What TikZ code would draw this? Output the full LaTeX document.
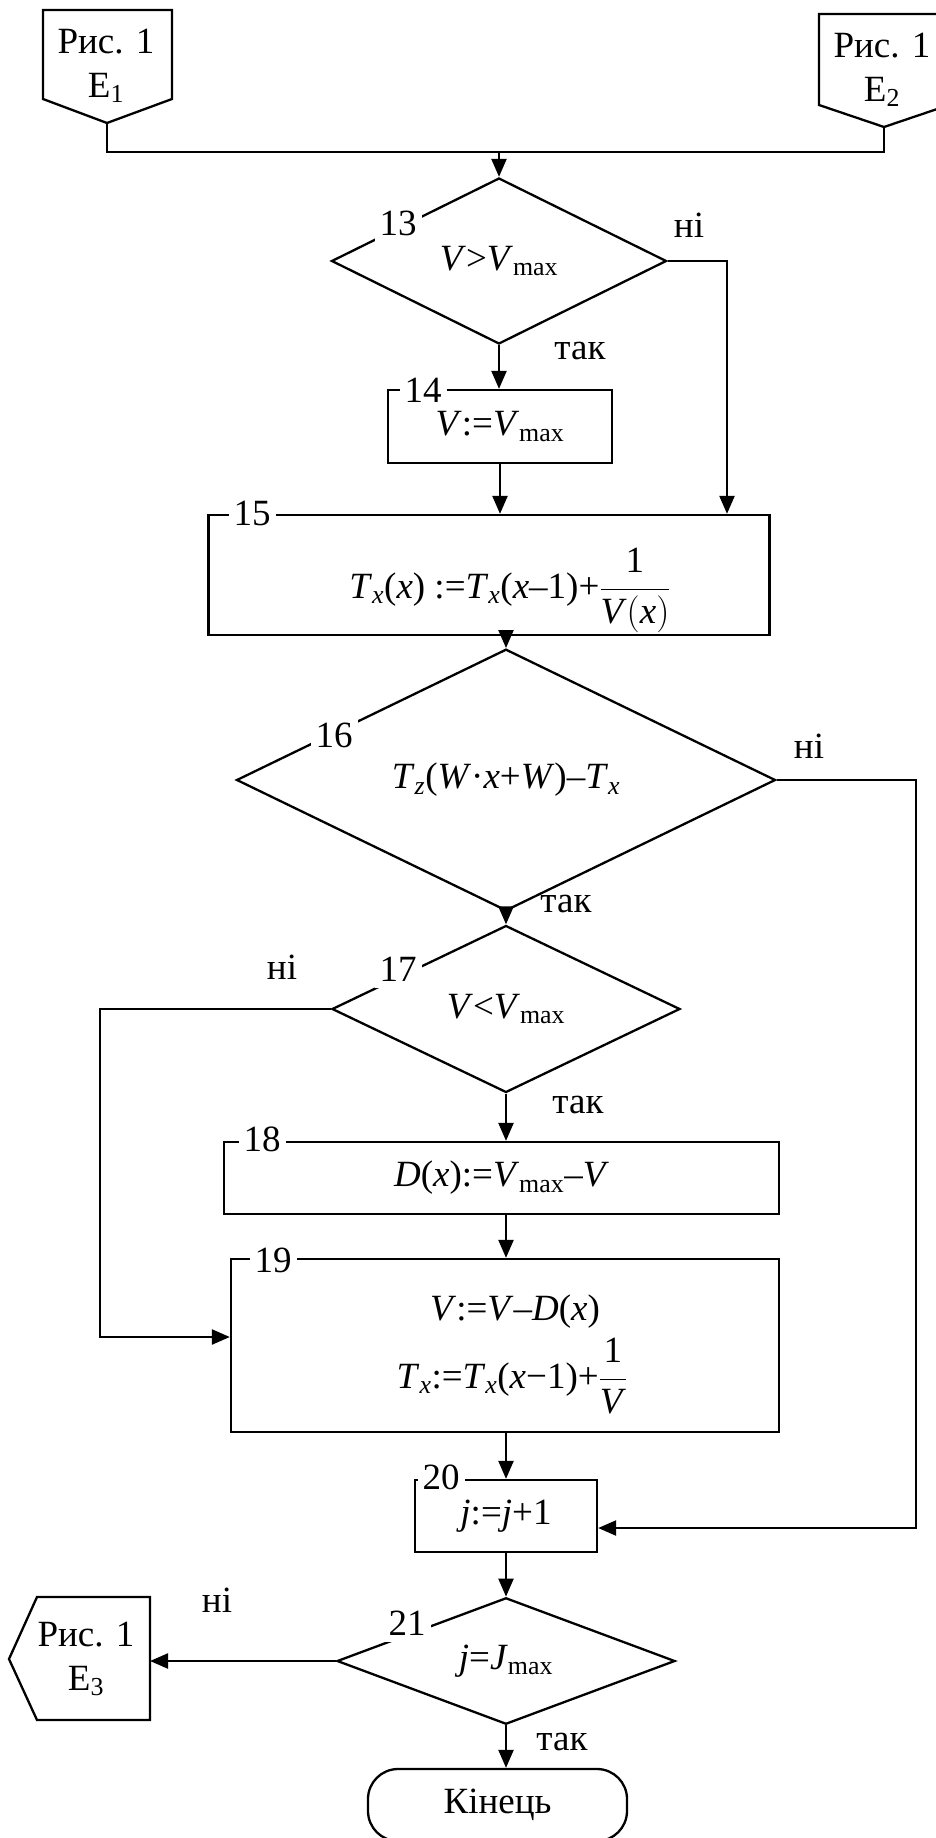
\RequirePackage{fix-cm}
\documentclass[tikz,border=0pt]{standalone}
\usepackage{fontspec}
\setmainfont{Liberation Serif}
\usetikzlibrary{shapes.geometric,arrows.meta}

\begin{document}
\begin{tikzpicture}[x=1pt,y=-1pt,line width=2.3pt,
  font=\fontsize{37}{44}\selectfont,
  proc/.style={draw,rectangle,inner sep=0pt},
  cond/.style={draw,diamond,inner sep=0pt},
  num/.style={fill=white,inner xsep=5pt,inner ysep=7pt,anchor=base},
  txt/.style={inner sep=0pt,anchor=base},
  arr/.style={-{Triangle[length=18pt,width=15pt]}}]
\useasboundingbox (0,0) rectangle (936,1838);

% --- entries from fig. 1 ---
\draw (43,10) -- (172,10) -- (172,99) -- (107,123) coordinate (e1tip) -- (43,99) -- cycle;
\node[align=center,inner sep=0pt] (e1) at (106,66) {Рис. 1\\E\textsubscript{1}};
\draw (819,14) -- (949,14) -- (949,105) -- (884,127) coordinate (e2tip) -- (819,105) -- cycle;
\node[align=center,inner sep=0pt] (e2) at (882,70) {Рис. 1\\E\textsubscript{2}};

% blocks
\node[cond,minimum width=335pt,minimum height=166pt] (d13) at (499,261) {\textit{V}>\textit{V}\textsubscript{max}};
\node[proc,minimum width=224pt,minimum height=73pt] (b14) at (500,426.5) {\textit{V}:=\textit{V}\textsubscript{max}};
\node[proc,minimum width=561pt,minimum height=120pt] (b15) at (489,575) {};
\node[txt] (t15) at (510,598) {\textit{T}\textsubscript{\textit{x}}(\textit{x}) :=\textit{T}\textsubscript{\textit{x}}(\textit{x}–1)+$\displaystyle\frac{\mbox{1}}{\mbox{\textit{V}}\bigl(\mbox{\textit{x}}\bigr)}$};
\node[cond,minimum width=539pt,minimum height=194pt] (d16) at (506,780) {\textit{T}\textsubscript{\textit{z}}(\textit{W}·\textit{x}+\textit{W})–\textit{T}\textsubscript{\textit{x}}};
\node[cond,minimum width=348pt,minimum height=167pt] (d17) at (506,1009) {\textit{V}<\textit{V}\textsubscript{max}};
\node[proc,minimum width=555pt,minimum height=72pt] (b18) at (501.5,1178) {\textit{D}(\textit{x}):=\textit{V}\textsubscript{max}–\textit{V}};
\node[proc,minimum width=548pt,minimum height=173pt] (b19) at (505,1345.5) {};
\node[txt] (t19a) at (515,1320) {\textit{V}:=\textit{V}–\textit{D}(\textit{x})};
\node[txt] (t19b) at (512,1388) {\textit{T}\textsubscript{\textit{x}}:=\textit{T}\textsubscript{\textit{x}}(\textit{x}−1)+$\displaystyle\frac{\mbox{1}}{\mbox{\textit{V}}}$};
\node[proc,minimum width=182pt,minimum height=72pt] (b20) at (506,1516) {\textit{j}:=\textit{j}+1};
\node[cond,minimum width=338pt,minimum height=120pt] (d21) at (506,1661) {\textit{j}=\textit{J}\textsubscript{max}};
\node[draw,rounded corners=30pt,minimum width=259pt,minimum height=72pt] (stop) at (497.5,1805) {Кінець};

% exit to fig. 1
\draw (150,1597) -- (150,1720) -- (37,1720) -- (9,1659) -- (37,1597) -- cycle;
\node[align=center,inner sep=0pt] (e3) at (86,1659) {Рис. 1\\E\textsubscript{3}};
\coordinate (e3in) at (150,1661);

% block numbers
\foreach \nm/\px/\py in {13/398/235,14/423/402,15/252/525,16/334/747,17/398/981,
                         18/262/1151,19/273/1272,20/441/1489,21/407/1635}
  \node[num] (num\nm) at (\px,\py) {\nm};

% yes / no
\foreach \nm/\px/\py/\ans in {no13/689/237/ні,yes13/580/359/так,no16/809/758/ні,yes16/566/912/так,
                              no17/282/979/ні,yes17/578/1113/так,no21/217/1612/ні,yes21/562/1750/так}
  \node[txt] (\nm) at (\px,\py) {\ans};

% arrows
\coordinate (join) at (499,152);
\draw (e1tip) |- (join) -| (e2tip);
\draw[arr] (join) -- (d13.north);
\draw[arr] (d13.south) -- (d13.south |- b14.north);
\draw[arr] (b14.south) -- (b14.south |- b15.north);
\coordinate (r13) at (727,261);
\draw[arr] (d13.east) -- (r13) -- (r13 |- b15.north);
\draw[arr] (b15.south -| d16.north) -- (d16.north);
\draw[arr] (d16.south) -- (d17.north);
\coordinate (r16) at (916,1528);
\draw[arr] (d16.east) -| (r16) -- (r16 -| b20.east);
\draw[arr] (d17.south) -- (d17.south |- b18.north);
\coordinate (l17) at (100,1337);
\draw[arr] (d17.west) -| (l17) -- (l17 -| b19.west);
\draw[arr] (d17.south |- b18.south) -- (d17.south |- b19.north);
\draw[arr] (b20.north |- b19.south) -- (b20.north);
\draw[arr] (b20.south) -- (d21.north);
\draw[arr] (d21.west) -- (e3in);
\draw[arr] (d21.south) -- (d21.south |- stop.north);
\end{tikzpicture}
\end{document}
